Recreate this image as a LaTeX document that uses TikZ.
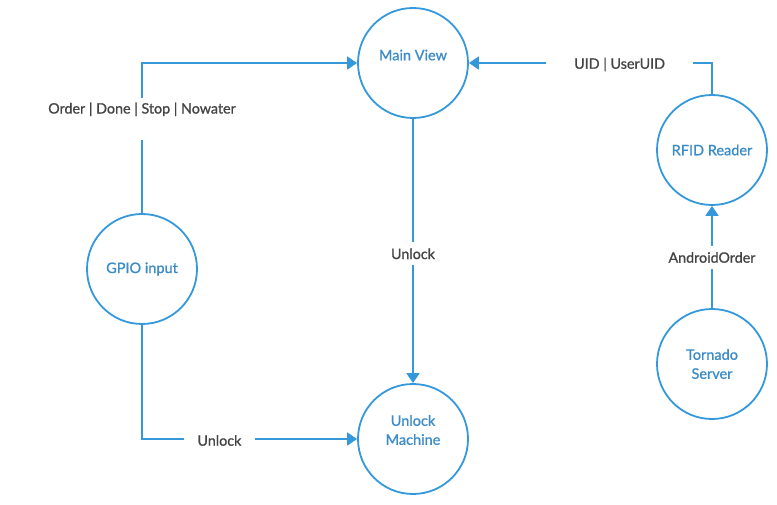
\documentclass[tikz,border=0pt]{standalone}
\usepackage{fontspec}
\setmainfont{Lato}[FakeBold=1.0]
\usetikzlibrary{arrows.meta}
\definecolor{lineblue}{RGB}{52,152,219}
\definecolor{textblue}{RGB}{60,140,200}
\definecolor{labelgray}{RGB}{68,68,68}
\begin{document}
\begin{tikzpicture}[x=1pt,y=-1pt,
  state/.style={circle, draw=lineblue, line width=1.8pt, minimum size=110pt,
    inner sep=0pt, text=textblue, align=center,
    font=\fontsize{14.5}{19}\selectfont},
  lbl/.style={fill=white, text=labelgray, inner xsep=14pt, inner ysep=6pt,
    yshift=-1.5pt, font=\fontsize{14.3}{16}\selectfont},
  conn/.style={draw=lineblue, line width=1.8pt,
    -{Triangle[length=10pt,width=13pt]}}]
\useasboundingbox (0,0) rectangle (777,505);
\fill[white] (0,0) rectangle (777,505);

\node[state] (main) at (413,63) {\raisebox{16pt}{Main View}};
\node[state] (gpio) at (142,269) {GPIO input};
\node[state] (unlock) at (413,439) {\raisebox{0pt}[\height][\dimexpr\depth+15pt\relax]{\begin{tabular}{@{}c@{}}Unlock\\Machine\end{tabular}}};
\node[state] (rfid) at (712,150) {RFID Reader};
\node[state] (tornado) at (712,364) {Tornado\\Server};

\draw[conn] (gpio.north) |- (main.west)
  node[lbl, pos=0.32, text depth=20pt, text height=10pt] {Order | Done | Stop | Nowater};
\draw[conn] (rfid.north) |- (main.east)
  node[lbl, pos=0.69, inner xsep=28pt] {UID | UserUID};
\draw[conn] (main.south) -- (unlock.north)
  node[lbl, pos=0.505] {Unlock};
\draw[conn] (gpio.south) |- (unlock.west)
  node[lbl, pos=0.68] {Unlock};
\draw[conn] (tornado.north) -- (rfid.south)
  node[lbl, pos=0.51] {AndroidOrder};
\end{tikzpicture}
\end{document}
